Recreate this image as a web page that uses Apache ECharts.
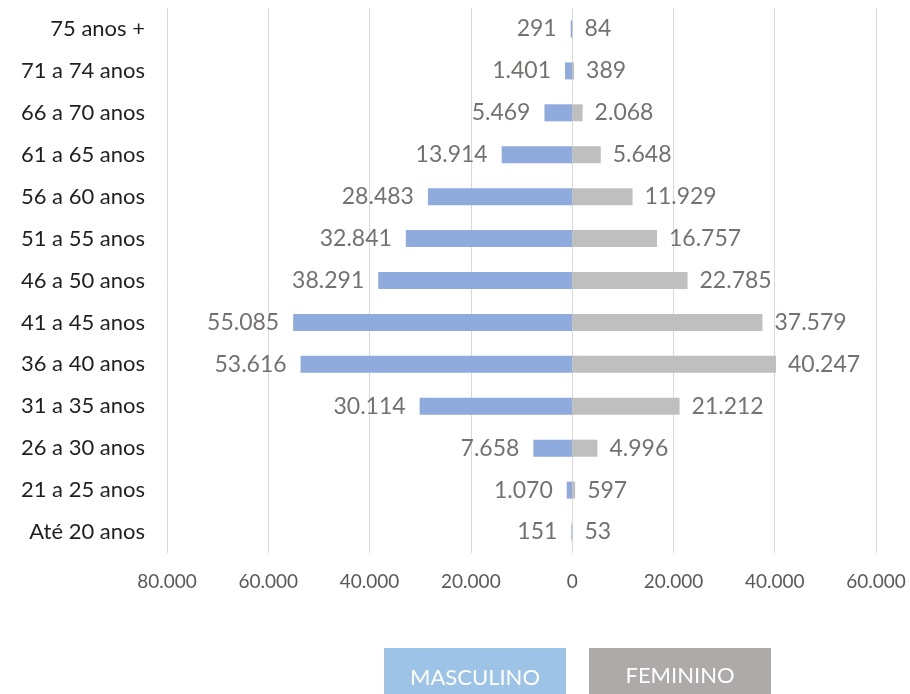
<!DOCTYPE html>
<html>
<head>
<meta charset="utf-8">
<script src="https://cdn.jsdelivr.net/npm/echarts@6/dist/echarts.min.js"></script>
<style>
  html, body { margin: 0; padding: 0; background: #fff; }
  #chart { width: 910px; height: 694px; }
</style>
</head>
<body>
<div id="chart"></div>
<script>
// faixas etarias, de baixo para cima
var faixas = ['Até 20 anos', '21 a 25 anos', '26 a 30 anos', '31 a 35 anos', '36 a 40 anos',
  '41 a 45 anos', '46 a 50 anos', '51 a 55 anos', '56 a 60 anos', '61 a 65 anos',
  '66 a 70 anos', '71 a 74 anos', '75 anos +'];
var masculino = [151, 1070, 7658, 30114, 53616, 55085, 38291, 32841, 28483, 13914, 5469, 1401, 291];
var feminino = [53, 597, 4996, 21212, 40247, 37579, 22785, 16757, 11929, 5648, 2068, 389, 84];
var legendas = ['MASCULINO', 'FEMININO'];

var FONT = 'Lato, "Noto Sans", sans-serif';

// formata numero com ponto como separador de milhar
function fmt(v) {
  return String(Math.abs(v)).replace(/\B(?=(\d{3})+(?!\d))/g, '.');
}

var chart = echarts.init(document.getElementById('chart'));

var option = {
  animation: false,
  textStyle: { fontFamily: FONT },
  grid: { left: 167, right: 34, top: 8, bottom: 141, containLabel: false },
  xAxis: {
    type: 'value',
    min: -80000,
    max: 60000,
    interval: 20000,
    axisLine: { show: false },
    axisTick: { show: false },
    axisLabel: {
      color: '#595959', fontSize: 19, margin: 19,
      formatter: function (v) { return fmt(v); }
    },
    splitLine: { lineStyle: { color: '#D9D9D9', width: 1 } }
  },
  yAxis: {
    type: 'category',
    data: faixas,
    axisLine: { show: false },
    axisTick: { show: false },
    axisLabel: { color: '#1f1f1f', fontSize: 22, margin: 22 }
  },
  series: [
    {
      name: legendas[0],
      type: 'bar',
      stack: 'total',
      barWidth: 17,
      itemStyle: { color: '#8FAADC' },
      label: {
        show: true, position: 'left', distance: 14,
        color: '#767171', fontSize: 23,
        formatter: function (p) { return fmt(p.value); }
      },
      data: masculino.map(function (v) { return -v; })
    },
    {
      name: legendas[1],
      type: 'bar',
      stack: 'total',
      barWidth: 17,
      itemStyle: { color: '#BFBFBF' },
      label: {
        show: true, position: 'right', distance: 12,
        color: '#767171', fontSize: 23,
        formatter: function (p) { return fmt(p.value); }
      },
      data: feminino
    }
  ],
  graphic: [
    {
      type: 'group', left: 384, top: 648,
      children: [
        { type: 'rect', shape: { x: 0, y: 0, width: 182, height: 46 }, style: { fill: '#9DC3E6' } },
        { type: 'text', x: 91, y: 30, style: { text: legendas[0], fill: '#fff', font: '22px ' + FONT, align: 'center', verticalAlign: 'middle' } }
      ]
    },
    {
      type: 'group', left: 589, top: 648,
      children: [
        { type: 'rect', shape: { x: 0, y: 0, width: 182, height: 46 }, style: { fill: '#AEAAAA' } },
        { type: 'text', x: 91, y: 28, style: { text: legendas[1], fill: '#fff', font: '22px ' + FONT, align: 'center', verticalAlign: 'middle' } }
      ]
    }
  ]
};

chart.setOption(option);
</script>
</body>
</html>
